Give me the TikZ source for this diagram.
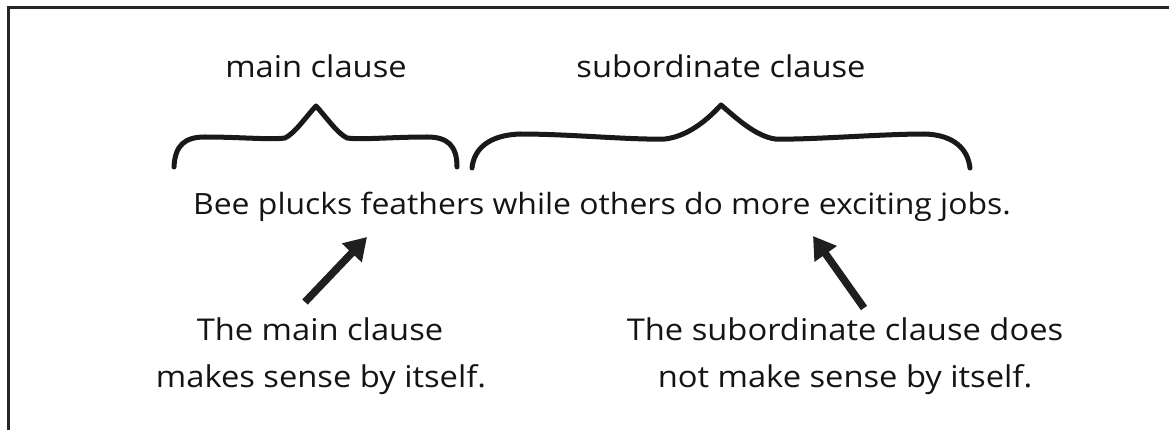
\documentclass[tikz,border=0pt]{standalone}
\usepackage{fontspec}
\setmainfont{Open Sans}[FakeStretch=1.09]
\usetikzlibrary{arrows.meta}
\begin{document}
\begin{tikzpicture}[x=1pt,y=-1pt,
  txt/.style={anchor=base,inner sep=0pt,font=\fontsize{30}{36}\selectfont,text=black!92},
  brace/.style={line width=5pt,black!90,line cap=round,line join=round},
  pointer/.style={line width=7.5pt,black!88,-{Triangle[width=26pt,length=22pt]}}]
\useasboundingbox (0,0) rectangle (1169,430);
\draw[line width=3pt,black!85] (8,7.5) rectangle (1180,445);
% headings
\node[txt] (mainlbl) at (316,78) {main clause};
\node[txt] (sublbl) at (721,78) {subordinate clause};
% braces
\draw[brace] (174,167) .. controls (175,145) and (185,137) .. (205,137)
  .. controls (240,137) and (270,140) .. (285,138)
  .. controls (295,133) and (305,118) .. (316,106)
  .. controls (327,118) and (337,133) .. (347,138)
  .. controls (362,140) and (392,137) .. (427,137)
  .. controls (447,137) and (457,145) .. (457,167);
\draw[brace] (472,168) .. controls (474,148) and (490,135) .. (520,134)
  .. controls (570,134) and (630,140) .. (665,139)
  .. controls (690,136) and (710,117) .. (721,105)
  .. controls (735,117) and (755,136) .. (775,139)
  .. controls (810,140) and (880,134) .. (925,134)
  .. controls (955,135) and (968,150) .. (970,168);
% sentence
\node[txt,font=\fontsize{29.3}{36}\selectfont] (sentence) at (602,215) {Bee plucks feathers while others do more exciting jobs.};
% explanations
\node[txt] (m1) at (320,340) {The main clause};
\node[txt] (m2) at (321,387) {makes sense by itself.};
\node[txt] (s1) at (845,340) {The subordinate clause does};
\node[txt] (s2) at (845,387) {not make sense by itself.};
% arrows
\coordinate (a1tail) at (305,302);
\coordinate (a1tip) at (367,237);
\coordinate (a2tail) at (864,308);
\coordinate (a2tip) at (813,236);
\draw[pointer] (a1tail) -- (a1tip);
\draw[pointer] (a2tail) -- (a2tip);
\end{tikzpicture}
\end{document}
